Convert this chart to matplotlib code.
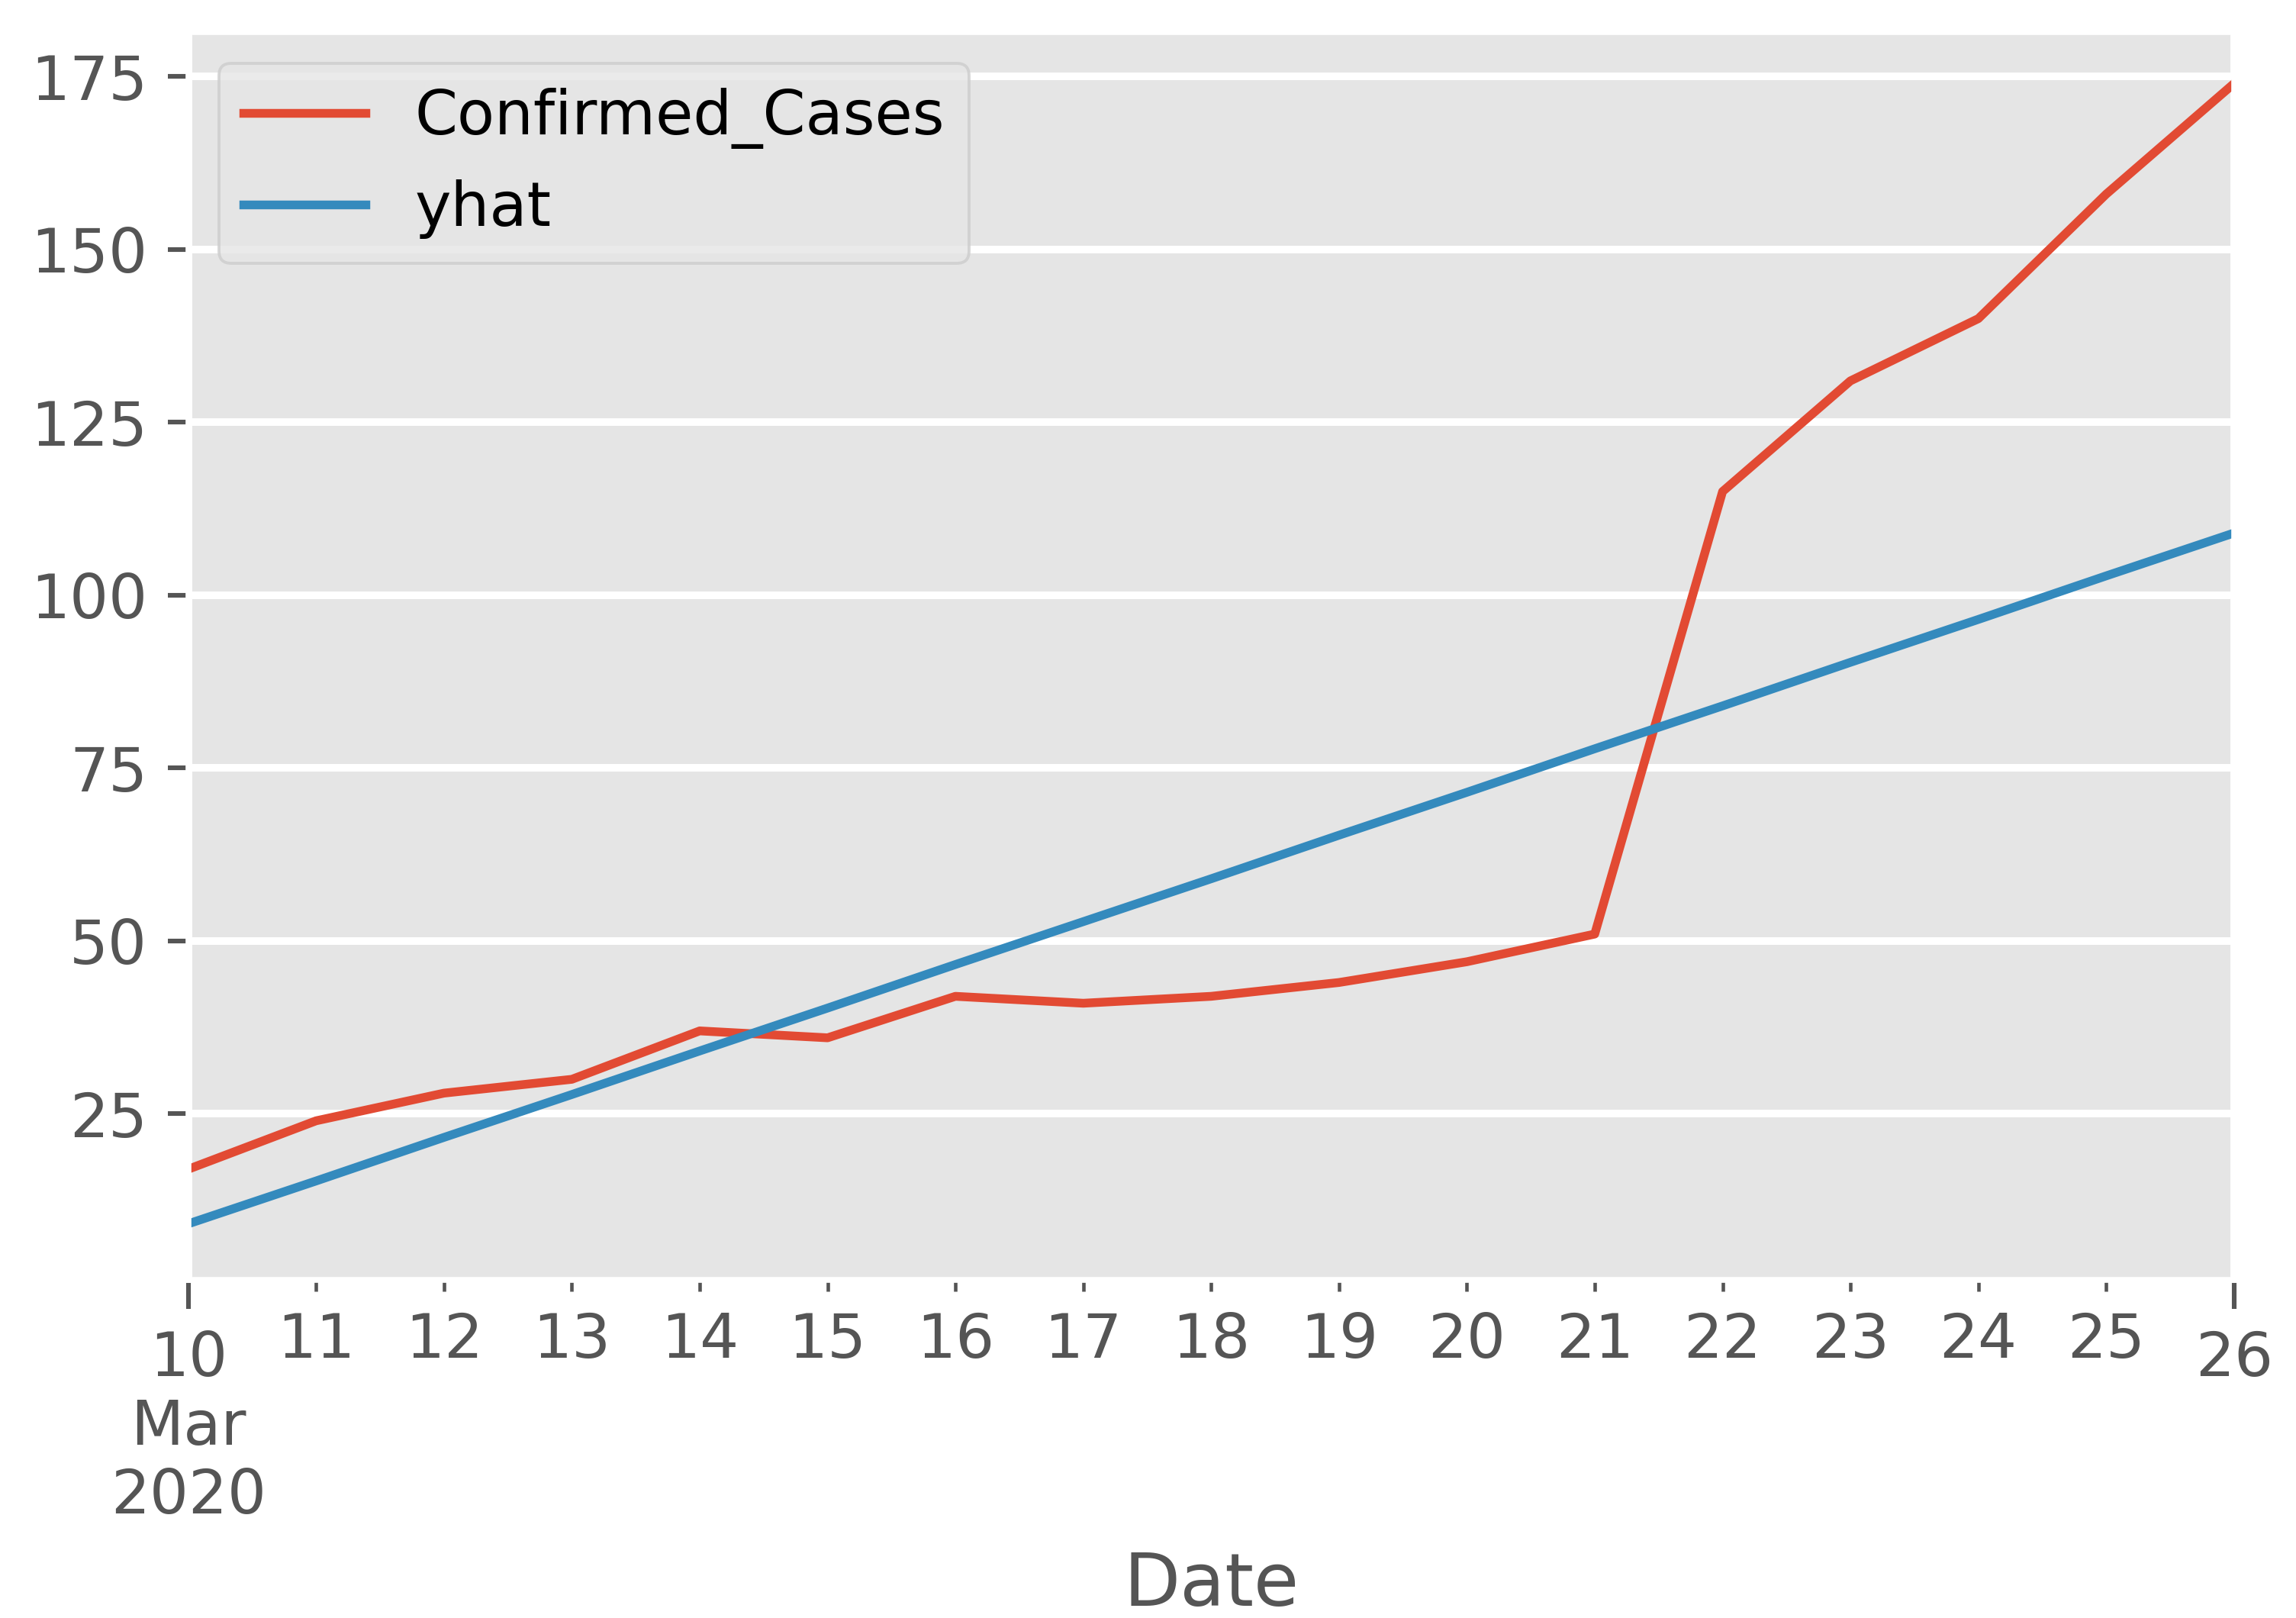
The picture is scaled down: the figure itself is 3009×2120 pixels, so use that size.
import numpy as np
import pandas as pd
import matplotlib
matplotlib.use("Agg")
import matplotlib.pyplot as plt
import matplotlib.dates as mdates
from matplotlib.ticker import FixedLocator, FixedFormatter

plt.style.use("ggplot")
plt.rcParams["font.size"] = 10.5
plt.rcParams["grid.linewidth"] = 1.3

dates = pd.date_range("2020-03-10", "2020-03-26", freq="D")
confirmed = [17, 24, 28, 30, 37, 36, 42, 41, 42, 44, 47, 51, 115, 131, 140, 158, 174]
yhat = [9.1, 15.3, 21.6, 27.8, 34.1, 40.3, 46.6, 52.8, 59.0, 65.3, 71.5,
        77.8, 84.0, 90.3, 96.5, 102.8, 109.0]
major_labels = ["10\nMar\n2020", "26"]
yticks = [25, 50, 75, 100, 125, 150, 175]

fig = plt.figure(figsize=(3009 / 550, 2120 / 550), dpi=550)
ax = fig.add_axes([0.082, 0.209, 0.891, 0.771])

x = mdates.date2num(dates.to_pydatetime())
ax.plot(x, confirmed, label="Confirmed_Cases")
ax.plot(x, yhat, label="yhat")

ax.set_xlim(x[0], x[-1])
ax.set_ylim(1.0, 181.4)
ax.xaxis.set_major_locator(FixedLocator([x[0], x[-1]]))
ax.xaxis.set_major_formatter(FixedFormatter(major_labels))
ax.xaxis.set_minor_locator(FixedLocator(x[1:-1]))
ax.xaxis.set_minor_formatter(FixedFormatter([str(d.day) for d in dates[1:-1]]))
ax.tick_params(axis="x", which="minor", labelsize=10.5, colors="0.33", labelcolor="#555555")
ax.tick_params(axis="x", which="major", length=5)
ax.set_yticks(yticks)
ax.set_xlabel("Date")
ax.legend(loc="upper left")

fig.savefig("out.png", dpi=550)
